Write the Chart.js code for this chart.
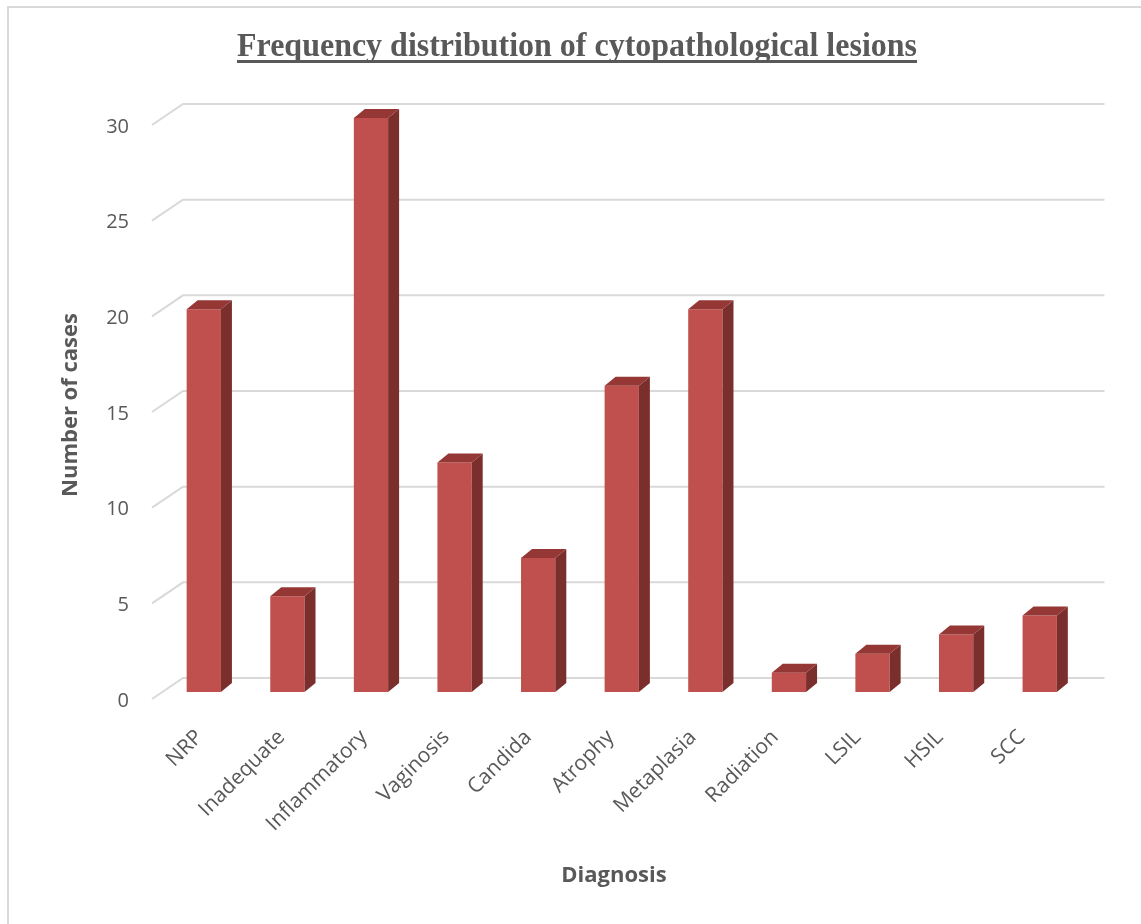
<!DOCTYPE html>
<html>
<head>
<meta charset="utf-8">
<script src="https://cdn.jsdelivr.net/npm/chart.js@4.4.1/dist/chart.umd.min.js"></script>
<style>
  html, body { margin: 0; padding: 0; background: #ffffff; }
  #wrap { position: relative; width: 1141px; height: 924px; }
  canvas { display: block; }
</style>
</head>
<body>
<div id="wrap"><canvas id="chart" width="1141" height="924"></canvas></div>
<script>
// ---- data ----
const chartTitle = 'Frequency distribution of cytopathological lesions';
const diagnoses = ['NRP', 'Inadequate', 'Inflammatory', 'Vaginosis', 'Candida', 'Atrophy',
                   'Metaplasia', 'Radiation', 'LSIL', 'HSIL', 'SCC'];
const cases = [20, 5, 30, 12, 7, 16, 20, 1, 2, 3, 4];
const yTickValues = [0, 5, 10, 15, 20, 25, 30];
const yAxisTitle = 'Number of cases';
const xAxisTitle = 'Diagnosis';

// ---- styling ----
const TEXT = '#595959';
const GRID = '#d9d9d9';
const FRONT = '#C0504D';
const SIDE = '#7A2F2D';
const TOP = '#953735';
const SANS = '"Open Sans", "DejaVu Sans", sans-serif';

// extrusion of each bar (right face / top face)
const BAR_DX = 11, BAR_DY = 9;

// Back wall grid + 3D bar faces + underlined title + floor caption
const frame3d = {
  id: 'frame3d',
  beforeDraw(chart) {
    const { ctx, width, height } = chart;
    ctx.save();
    ctx.fillStyle = '#ffffff';
    ctx.fillRect(0, 0, width, height);
    ctx.strokeStyle = GRID;
    ctx.lineWidth = 2;
    ctx.beginPath();
    ctx.moveTo(8, height);
    ctx.lineTo(8, 7);
    ctx.lineTo(width, 7);
    ctx.stroke();
    ctx.restore();
  },
  beforeDatasetsDraw(chart) {
    const { ctx, chartArea, scales: { y } } = chart;
    ctx.save();
    ctx.strokeStyle = GRID;
    ctx.lineWidth = 2;
    y.ticks.forEach(t => {
      const py = y.getPixelForValue(t.value);
      ctx.beginPath();
      ctx.moveTo(chartArea.left - 10, py + 7);
      ctx.lineTo(chartArea.left + 21, py - 14);
      ctx.lineTo(chartArea.right + 23, py - 14);
      ctx.stroke();
    });
    ctx.restore();
  },
  afterDatasetsDraw(chart) {
    const { ctx } = chart;
    const meta = chart.getDatasetMeta(0);
    ctx.save();
    meta.data.forEach(bar => {
      const { x, y, base, width } = bar.getProps(['x', 'y', 'base', 'width'], true);
      const l = x - width / 2, r = x + width / 2;
      // right face
      ctx.fillStyle = SIDE;
      ctx.beginPath();
      ctx.moveTo(r, base);
      ctx.lineTo(r + BAR_DX, base - BAR_DY);
      ctx.lineTo(r + BAR_DX, y - BAR_DY);
      ctx.lineTo(r, y);
      ctx.closePath();
      ctx.fill();
      // top face
      ctx.fillStyle = TOP;
      ctx.beginPath();
      ctx.moveTo(l, y);
      ctx.lineTo(l + BAR_DX, y - BAR_DY);
      ctx.lineTo(r + BAR_DX, y - BAR_DY);
      ctx.lineTo(r, y);
      ctx.closePath();
      ctx.fill();
    });
    ctx.restore();
  },
  afterDraw(chart) {
    const { ctx } = chart;
    const cx = 577, baseline = 56, targetW = 680;
    ctx.save();
    ctx.font = 'bold 34px "Liberation Serif", "Times New Roman", serif';
    ctx.fillStyle = TEXT;
    ctx.textAlign = 'center';
    ctx.textBaseline = 'alphabetic';
    const w = ctx.measureText(chartTitle).width;
    ctx.translate(cx, baseline);
    ctx.scale(targetW / w, 1);
    ctx.fillText(chartTitle, 0, 0);
    ctx.restore();
    ctx.save();
    ctx.fillStyle = TEXT;
    ctx.fillRect(cx - targetW / 2, 60, targetW, 3);
    // horizontal axis caption
    ctx.font = 'bold 22px ' + SANS;
    ctx.textAlign = 'center';
    ctx.textBaseline = 'middle';
    ctx.fillText(xAxisTitle, 614, 876);
    ctx.restore();
  }
};

new Chart(document.getElementById('chart'), {
  type: 'bar',
  data: {
    labels: diagnoses,
    datasets: [{
      data: cases,
      backgroundColor: FRONT,
      borderWidth: 0,
      barPercentage: 0.41,
      categoryPercentage: 1,
      xAxisID: 'x',
      yAxisID: 'y'
    }]
  },
  options: {
    responsive: false,
    animation: false,
    devicePixelRatio: 1,
    layout: { padding: { top: 118, right: 59.5, bottom: 0, left: 0 } },
    plugins: {
      legend: { display: false },
      tooltip: { enabled: false },
      title: { display: false }
    },
    scales: {
      x: { type: 'category', display: false, offset: true },
      // label axis in the front plane of the floor
      xl: {
        type: 'linear',
        position: 'bottom',
        offset: false,
        min: -0.454,
        max: 10.724,
        grid: { display: false, drawTicks: false, offset: false },
        border: { display: false },
        afterBuildTicks: s => { s.ticks = diagnoses.map((_, i) => ({ value: i })); },
        ticks: {
          autoSkip: false,
          minRotation: 45,
          maxRotation: 45,
          padding: 33,
          color: TEXT,
          font: { family: SANS, size: 21 },
          callback: v => diagnoses[v]
        },
        title: { display: false },
        afterFit: s => { s.height = 232; }
      },
      y: {
        min: 0,
        max: 30,
        afterBuildTicks: s => { s.ticks = yTickValues.map(v => ({ value: v })); },
        grid: { display: false, drawTicks: false },
        border: { display: false },
        ticks: {
          padding: 33,
          labelOffset: 9,
          color: TEXT,
          font: { family: SANS, size: 20 }
        },
        title: {
          display: true,
          text: yAxisTitle,
          color: TEXT,
          font: { family: SANS, size: 22, weight: 'bold' },
          padding: { top: 58, bottom: 0 }
        },
        afterFit: s => { s.width = 162; }
      }
    }
  },
  plugins: [frame3d]
});
</script>
</body>
</html>
